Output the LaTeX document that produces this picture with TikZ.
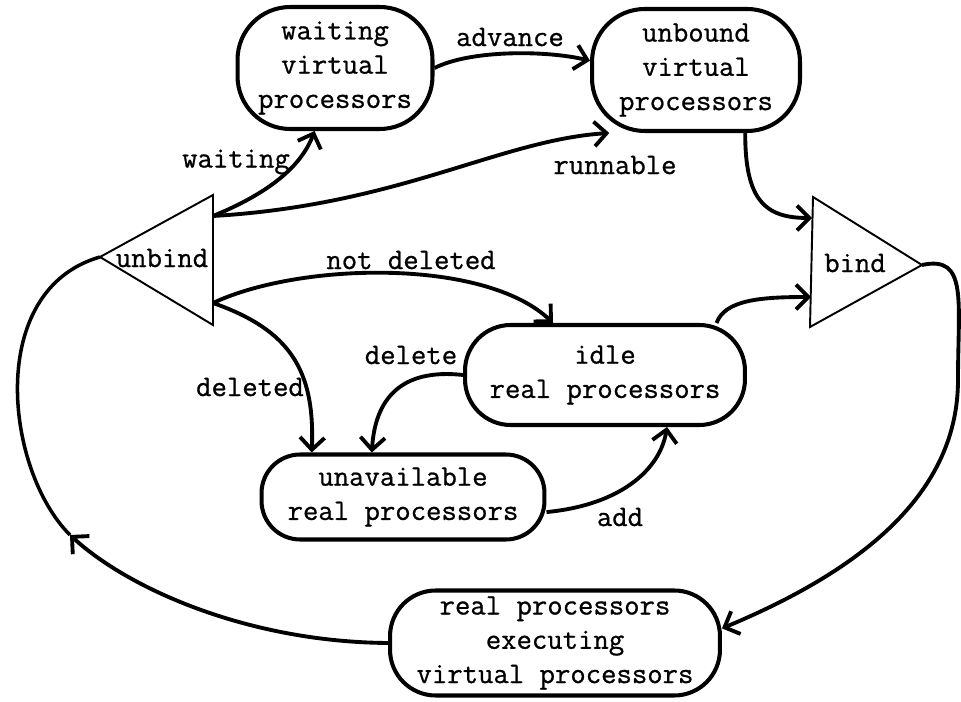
\documentclass[tikz,border=0pt]{standalone}
\usepackage{fontspec}
\newfontfamily\typew{Latin Modern Mono}[FakeBold=0.8]
\usepackage{tikz}
\usetikzlibrary{arrows.meta}

\begin{document}
\begin{tikzpicture}[x=0.02cm, y=-0.02cm,
  blob/.style={draw, line width=2.3pt, rounded corners=26pt, align=center, inner sep=0pt, font=\fontsize{17}{19.5}\selectfont\typew},
  lbl/.style={font=\fontsize{17}{19.5}\selectfont\typew},
  flow/.style={->, line width=2.2pt},
  >={Straight Barb[length=7pt,width=14pt]}]
\useasboundingbox (0,0) rectangle (961,702);

% Vẽ các trạng thái
\node[blob, rounded corners=30pt, minimum width=3.9cm, minimum height=2.44cm] (wait) at (335,68) {waiting\\virtual\\processors};
\node[blob, rounded corners=30pt, minimum width=4.16cm, minimum height=2.44cm] (unbnd) at (696,70) {unbound\\virtual\\processors};
\node[blob, minimum width=5.6cm, minimum height=2cm] (idle) at (605,375) {idle\\real processors};
\node[blob, rounded corners=22pt, minimum width=5.66cm, minimum height=1.7cm] (unav) at (403,497) {unavailable\\real processors};
\node[blob, minimum width=6.6cm, minimum height=2.1cm] (exec) at (555,643) {real processors\\executing\\virtual processors};

% Vẽ hai tam giác unbind, bind
\draw[line width=1.1pt] (213,195) -- (100,257) -- (213,325) -- cycle;
\draw[line width=1.1pt] (813,197) -- (922,265) -- (810,327) -- cycle;
\node[lbl] (unbind) at (162,258) {unbind};
\node[lbl] (bind) at (855,263) {bind};
\coordinate (ubtip) at (100,257);
\coordinate (ubtop) at (213,216);
\coordinate (ubbot) at (213,303);
\coordinate (bdtip) at (922,265);
\coordinate (bdtop) at (812,218);
\coordinate (bdbot) at (811,297);
\coordinate (loop) at (70,535);

% Vẽ các mũi tên
\draw[flow] (wait.east) .. controls (470,50) and (545,50) .. (unbnd.175);
\draw[flow] (ubtop) .. controls (262,196) and (300,170) .. (wait.252);
\draw[flow] (ubtop) .. controls (400,205) and (500,140) .. (unbnd.216);
\draw[flow] (unbnd.-52) .. controls (745,200) and (765,218) .. (bdtop);
\draw[flow] (idle.25) .. controls (725,300) and (760,297) .. (bdbot);
\draw[flow] (ubbot) .. controls (300,262) and (485,258) .. (idle.135);
\draw[flow] (ubbot) .. controls (290,330) and (315,370) .. (unav.154);
\draw[flow] (idle.west) .. controls (400,368) and (375,400) .. (unav.125);
\draw[flow] (unav.-6) .. controls (620,505) and (660,470) .. (idle.-40);
\draw[flow] (bdtip) .. controls (968,255) and (958,300) .. (958,380) .. controls (958,500) and (850,575) .. (exec.5);
\draw[flow] (exec.west) .. controls (250,642) and (130,590) .. (loop);
\draw[line width=2pt] (loop) .. controls (5,470) and (-15,290) .. (ubtip);

% Ghi nhãn các mũi tên
\foreach \nm/\x/\y/\txt in {adv/510/37/advance, wt/236/162/waiting, run/615/165/runnable, nd/411/260/not deleted, dl/411/355/delete, dd/250/387/deleted, add/620/517/add}
  \node[lbl] (l-\nm) at (\x,\y) {\txt};
\end{tikzpicture}
\end{document}
